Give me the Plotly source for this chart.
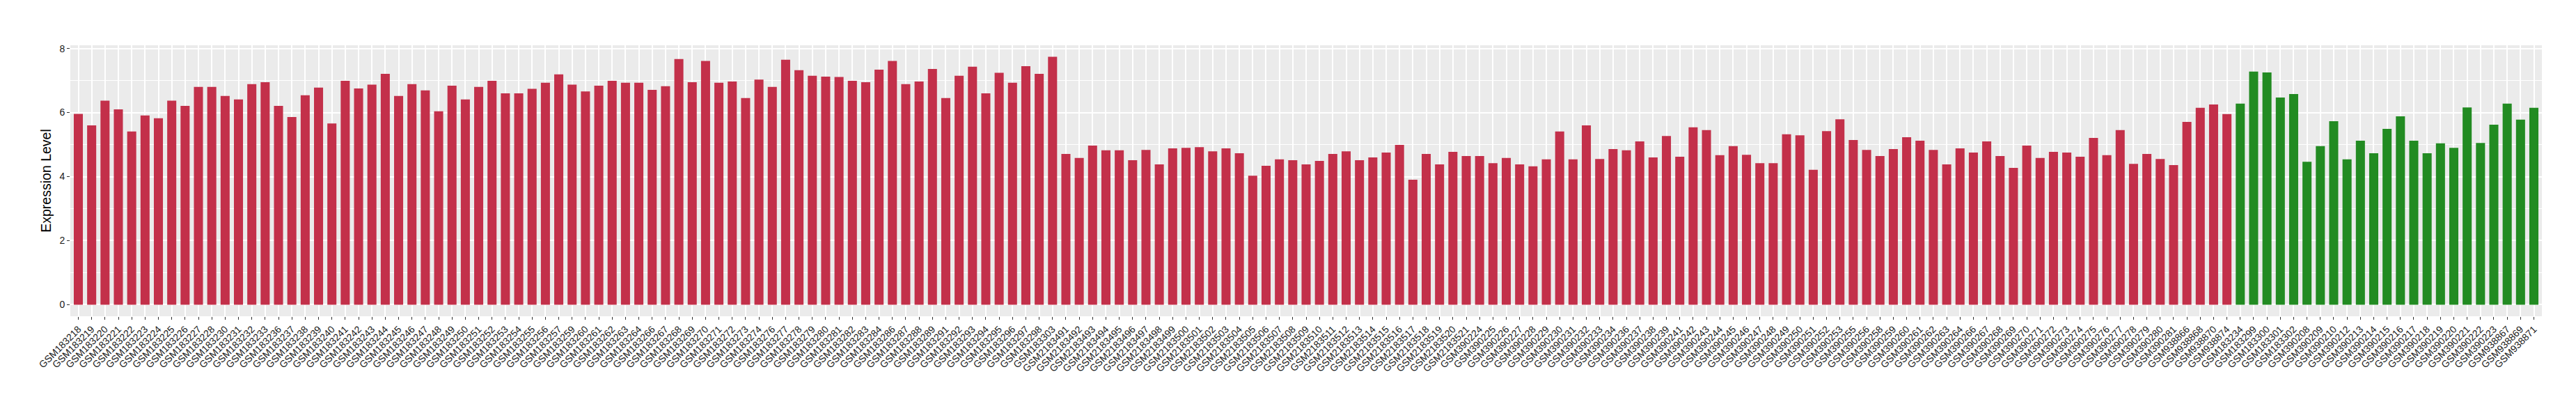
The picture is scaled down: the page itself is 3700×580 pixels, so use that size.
import plotly.graph_objects as go

# ---- data ----
grpA_ids = [218,219,220,221,222,223,224,225,226,227,228,230,231,232,233,236,237,238,239,240,
            241,242,243,244,245,246,247,248,249,250,251,252,253,254,255,256,257,259,260,261,
            262,263,264,266,267,268,269,270,271,272,273,274,276,277,278,279,280,281,282,283,
            284,286,287,288,289,291,292,293,294,295,296,297,298,303]
grpA_vals = [5.96,5.60,6.37,6.10,5.41,5.91,5.82,6.37,6.21,6.80,6.80,6.52,6.41,6.89,6.95,6.21,5.86,6.54,6.78,5.66,
             6.99,6.75,6.87,7.21,6.52,6.89,6.69,6.04,6.84,6.41,6.80,6.99,6.60,6.60,6.74,6.93,7.19,6.87,6.66,6.84,
             6.99,6.93,6.93,6.71,6.82,7.67,6.95,7.61,6.93,6.97,6.45,7.03,6.80,7.65,7.32,7.15,7.12,7.11,6.99,6.95,
             7.34,7.61,6.89,6.97,7.36,6.45,7.15,7.43,6.60,7.24,6.93,7.45,7.21,7.74]

grpB_ids = list(range(2183491, 2183522))
grpB_vals = [4.71,4.58,4.97,4.82,4.82,4.51,4.83,4.38,4.88,4.90,4.92,4.79,4.88,4.73,4.03,4.34,4.54,4.51,4.38,4.49,
             4.71,4.79,4.51,4.60,4.75,4.99,3.90,4.71,4.38,4.77,4.64]

grpC_ids = [224,225,226,227,228,229,230,231,232,233,234,236,237,238,239,241,242,243,244,245,
            246,247,248,249,250,251,252,253,255,256,258,259,260,261,262,263,264,266,267,268,
            269,270,271,272,273,274,275,276,277,278,279,280,281]
grpC_vals = [4.64,4.42,4.58,4.38,4.32,4.54,5.41,4.54,5.60,4.55,4.86,4.82,5.10,4.60,5.27,4.62,5.54,5.45,4.67,4.95,
             4.68,4.42,4.42,5.32,5.29,4.21,5.42,5.79,5.14,4.83,4.64,4.86,5.23,5.12,4.83,4.38,4.88,4.75,5.10,4.64,
             4.27,4.97,4.58,4.77,4.75,4.62,5.21,4.67,5.45,4.40,4.71,4.55,4.36]

grpD_ids = [938866,938868,938870,938874]
grpD_vals = [5.71,6.15,6.25,5.95]

green_labels = ["GSM183234","GSM183299","GSM183300","GSM183301","GSM183302",
                "GSM390208","GSM390209","GSM390210","GSM390212","GSM390213","GSM390214","GSM390215",
                "GSM390216","GSM390217","GSM390218","GSM390219","GSM390220","GSM390221","GSM390222",
                "GSM390223","GSM938867","GSM938869","GSM938871"]
green_vals = [6.28,7.28,7.25,6.47,6.58,
              4.46,4.95,5.73,4.54,5.12,4.73,5.49,
              5.88,5.12,4.73,5.04,4.90,6.16,5.05,
              5.62,6.28,5.78,6.15]

red_labels = ([f"GSM183{i}" for i in grpA_ids] + [f"GSM{i}" for i in grpB_ids] +
              [f"GSM390{i}" for i in grpC_ids] + [f"GSM{i}" for i in grpD_ids])
red_vals = grpA_vals + grpB_vals + grpC_vals + grpD_vals

RED = "#C3304A"
GREEN = "#228B22"

labels = red_labels + green_labels
values = red_vals + green_vals
colors = [RED] * len(red_labels) + [GREEN] * len(green_labels)
n = len(labels)

fig = go.Figure(go.Bar(x=labels, y=values, marker=dict(color=colors, line=dict(width=0)),
                       width=0.68, showlegend=False))

font_family = "Liberation Sans, Arial, sans-serif"
fig.update_layout(
    width=3700, height=580,
    margin=dict(l=93, r=57, t=57, b=134),
    paper_bgcolor="white", plot_bgcolor="#EBEBEB",
    font=dict(family=font_family, color="#1A1A1A"),
)
fig.update_xaxes(
    type="category", range=[-0.6, n - 1 + 0.6],
    tickangle=-45, tickfont=dict(size=14, color="#1A1A1A"),
    ticks="outside", ticklen=4, tickcolor="#333333", tickwidth=1,
    showgrid=True, gridcolor="white", gridwidth=1.8,
    zeroline=False, showline=False,
)
fig.update_yaxes(
    range=[-0.36, 8.1], tick0=0, dtick=2,
    tickfont=dict(size=14, color="#1A1A1A"),
    ticks="outside", ticklen=4, tickcolor="#333333", tickwidth=1,
    showgrid=True, gridcolor="white", gridwidth=1.8,
    minor=dict(dtick=1, showgrid=True, gridcolor="white", gridwidth=0.9),
    zeroline=False, showline=False,
    title=dict(text="Expression Level", font=dict(size=19.5, color="#000000"), standoff=6),
)

fig.write_html("out.html")
